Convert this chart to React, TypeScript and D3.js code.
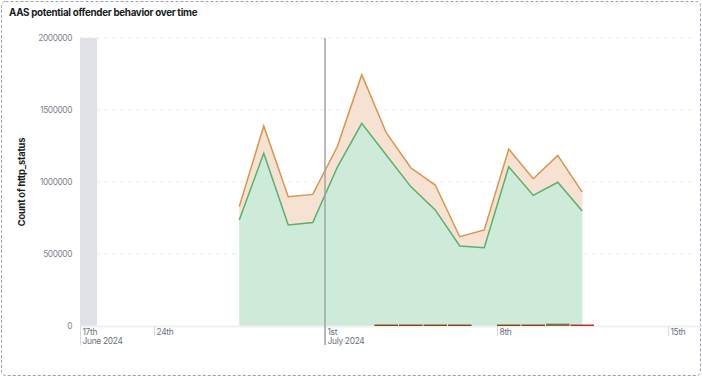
import React from "react";
import * as d3 from "d3";

const title = "AAS potential offender behavior over time";
const yAxisLabel = "Count of http_status";

// daily buckets (noon timestamps)
const pointDates = [
  "2024-06-27T12:00", "2024-06-28T12:00", "2024-06-29T12:00", "2024-06-30T12:00",
  "2024-07-01T12:00", "2024-07-02T12:00", "2024-07-03T12:00", "2024-07-04T12:00",
  "2024-07-05T12:00", "2024-07-06T12:00", "2024-07-07T12:00", "2024-07-08T12:00",
  "2024-07-09T12:00", "2024-07-10T12:00", "2024-07-11T12:00",
];
const successValues = [736000, 1199000, 701000, 718000, 1102000, 1407000, 1187000, 968000, 806000, 556000, 544000, 1106000, 907000, 998000, 799000];
const otherValues = [93000, 190000, 197000, 196000, 143000, 338000, 155000, 131000, 173000, 64000, 123000, 123000, 116000, 187000, 131000];

// tiny bars along the baseline
const barDates = ["2024-07-03", "2024-07-04", "2024-07-05", "2024-07-06", "2024-07-08", "2024-07-09", "2024-07-10"];
const barValues = [10000, 10000, 10000, 10000, 10000, 10000, 16000];
const redBarDates = ["2024-07-11"];
const redBarValues = [10000];

const yTicks = [0, 500000, 1000000, 1500000, 2000000];
const xTickDates = ["2024-06-21", "2024-06-24", "2024-07-01", "2024-07-08", "2024-07-15"];
const xTickLabels = ["17th", "24th", "1st", "8th", "15th"];
const xTickSubLabels = ["June 2024", "", "July 2024", "", ""];
const domainStart = "2024-06-21T00:00";
const domainEnd = "2024-07-16T00:00";
const shadedRange = ["2024-06-21T00:00", "2024-06-21T16:40"];
const markerDate = "2024-07-01T00:00";

const W = 702;
const H = 377;
const FONT = "Inter, 'Noto Sans', sans-serif";

export default function App() {
  const parse = (s: string) => new Date(s + (s.length === 10 ? "T00:00" : "") + ":00Z");
  const left = 80, right = 692.5, top = 38, bottom = 326;
  const x = d3.scaleUtc().domain([parse(domainStart), parse(domainEnd)]).range([left, right]);
  const y = d3.scaleLinear().domain([0, 2000000]).range([bottom, top]);

  const rows = pointDates.map((d, i) => ({ date: parse(d), success: successValues[i], other: otherValues[i] }));
  const stack = d3.stack<any>().keys(["success", "other"])(rows);
  const area = d3.area<any>().x((d) => x(d.data.date)).y0((d) => y(d[0])).y1((d) => y(d[1]));
  const line = d3.line<any>().x((d) => x(d.data.date)).y((d) => y(d[1]));
  const fills = ["#cdebd8", "#f5e2d2"];
  const strokes = ["#54b36a", "#d99548"];
  const day = 24 * 3600 * 1000;

  return (
    <svg width={W} height={H} style={{ position: "absolute", left: 0, top: 0 }} fontFamily={FONT}>
      <rect x={1.5} y={1.5} width={W - 3} height={H - 3} rx={4} fill="white" stroke="#98a2b3" strokeDasharray="3,2" />
      <text x={9} y={15.5} fontSize={9.8} fontWeight={700} letterSpacing={-0.3} fill="#1a1c21">{title}</text>
      {/* shaded region */}
      <rect x={x(parse(shadedRange[0]))} y={top} width={x(parse(shadedRange[1])) - x(parse(shadedRange[0]))} height={bottom - top} fill="#e0e1e6" />
      {/* gridlines */}
      {yTicks.filter((t) => t > 0).map((t) => (
        <line key={t} x1={left} x2={right} y1={y(t)} y2={y(t)} stroke="#e6e8ec" strokeDasharray="4,4" />
      ))}
      {/* y axis labels */}
      {yTicks.map((t) => (
        <text key={t} x={72} y={y(t) + 3} textAnchor="end" fontSize={8.4} letterSpacing={-0.45} fill="#808590">{t}</text>
      ))}
      <text transform={`translate(25,${(top + bottom) / 2}) rotate(-90)`} textAnchor="middle" fontSize={9.3} fontWeight={700} letterSpacing={-0.2} fill="#1a1c21">{yAxisLabel}</text>
      {/* areas */}
      {stack.map((s, i) => (
        <path key={"a" + i} d={area(s) || ""} fill={fills[i]} />
      ))}
      {stack.map((s, i) => (
        <path key={"l" + i} d={line(s) || ""} fill="none" stroke={strokes[i]} strokeWidth={1.5} />
      ))}
      {/* x axis line */}
      <line x1={left} x2={W} y1={bottom + 0.5} y2={bottom + 0.5} stroke="#eef0f3" strokeWidth={2} />
      {/* baseline bars */}
      {barDates.map((d, i) => {
        const x0 = x(parse(d));
        return <rect key={"b" + i} x={x0 + 0.5} y={y(barValues[i])} width={x(new Date(parse(d).getTime() + day)) - x0 - 1} height={bottom - y(barValues[i])} fill={barValues[i] > 12000 ? "#8a6a45" : "#8a3f1e"} />;
      })}
      {redBarDates.map((d, i) => {
        const x0 = x(parse(d));
        return <rect key={"r" + i} x={x0 + 0.5} y={y(redBarValues[i])} width={x(new Date(parse(d).getTime() + day)) - x0 - 1} height={bottom - y(redBarValues[i])} fill="#c0281f" />;
      })}
      {/* x ticks */}
      {xTickDates.map((d, i) => {
        const xp = Math.round(x(parse(d))) + 0.5;
        return (
          <g key={d}>
            <line x1={xp} x2={xp} y1={bottom} y2={xTickSubLabels[i] ? 345 : 336} stroke="#d3dae6" />
            <text x={xp + 2} y={335} fontSize={8.4} letterSpacing={-0.3} fill="#69707d">{xTickLabels[i]}</text>
            {xTickSubLabels[i] && <text x={xp + 2} y={343.5} fontSize={8.4} letterSpacing={-0.3} fill="#69707d">{xTickSubLabels[i]}</text>}
          </g>
        );
      })}
      {/* marker line */}
      <line x1={x(parse(markerDate))} x2={x(parse(markerDate))} y1={top} y2={345} stroke="#a0a3a8" strokeWidth={1.5} />
    </svg>
  );
}
